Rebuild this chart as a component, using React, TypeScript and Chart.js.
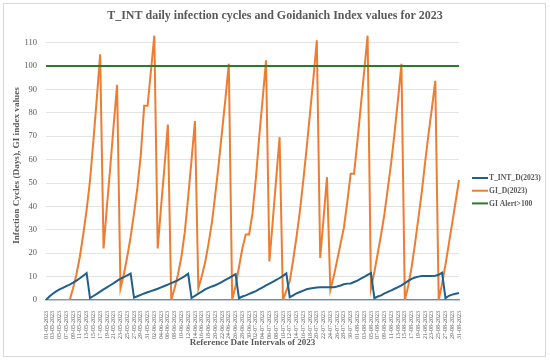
import React, { useEffect, useRef } from "react";
import { Chart, registerables } from "chart.js";

Chart.register(...registerables);

// Categories: daily dates 01-05-2023 .. 31-08-2023
const MONTHS = [
  { m: "05", days: 31 },
  { m: "06", days: 30 },
  { m: "07", days: 31 },
  { m: "08", days: 31 },
];
const dateLabels: string[] = [];
MONTHS.forEach(({ m, days }) => {
  for (let d = 1; d <= days; d++) {
    dateLabels.push(`${String(d).padStart(2, "0")}-${m}-2023`);
  }
});

const tIntValues = [
  0, 1.5, 2.7, 3.7, 4.5, 5.2, 5.9, 6.6, 7.4, 8.3, 9.3, 10.4, 11.5,
  0.8, 1.7, 2.6, 3.6, 4.5, 5.4, 6.3, 7.2, 8.2, 9.1, 9.8, 10.5, 11.3,
  1, 1.6, 2.2, 2.8, 3.3, 3.8, 4.3, 4.8, 5.4, 6, 6.6, 7.2, 7.8, 8.5, 9.3, 10.2, 11.2,
  0.8, 1.8, 2.7, 3.6, 4.5, 5.2, 5.8, 6.3, 7, 7.8, 8.6, 9.4, 10.2, 11.1,
  0.8, 1.5, 2, 2.6, 3.2, 3.8, 4.6, 5.4, 6.2, 7, 7.8, 8.6, 9.4, 10.3, 11.4,
  1.2, 2, 2.8, 3.4, 4, 4.6, 4.9, 5.1, 5.3, 5.4, 5.5, 5.5, 5.5, 5.5,
  5.8, 6.2, 6.7, 7, 7.1, 7.7, 8.3, 9.1, 9.9, 10.7, 11.5,
  0.8, 1.5, 2, 2.8, 3.5, 4.1, 4.8, 5.5, 6.3, 7.2, 8.2, 9, 9.6, 10, 10.3, 10.3, 10.3, 10.3, 10.4, 10.8, 11.7,
  0.8, 1.8, 2.3, 2.7, 3,
];

const giValues = [
  0, 0, 0, 0, 0, 0, 0, 0,
  5, 11, 18.5, 28, 38.5, 51, 68, 86, 105,
  22, 40, 57, 75, 92,
  5, 11, 18.5, 27, 37, 48, 62, 83, 83, 98, 113,
  22, 40, 57, 75,
  0, 5, 11, 18.5, 29, 44, 60, 76.5,
  5, 10, 16, 24, 33, 45, 58, 72, 86, 101,
  0, 6, 14, 22, 28, 28, 37, 52, 70, 86, 102.5,
  16.5, 34, 52, 69.6,
  0, 4, 8, 17, 27, 38, 51, 65, 80, 95, 111,
  18, 35, 52.5,
  4.3, 10, 17, 24, 31, 42, 54, 54, 68, 83, 98, 113,
  5, 12, 20, 28, 37, 48, 59, 72, 86, 101,
  0, 6, 14, 24, 35, 46, 59, 71, 82, 93.7,
  0, 7, 15, 24, 33, 42, 51.3,
];

const GI_ALERT_LEVEL = 100;
const alertValues = dateLabels.map(() => GI_ALERT_LEVEL);

const CHART_TITLE = "T_INT daily infection cycles and Goidanich Index values for 2023";
const SERIES_NAMES = ["T_INT_D(2023)", "GI_D(2023)", "GI Alert>100"];
const SERIES_COLORS = ["#1f5f8b", "#ed7d31", "#2b7b2b"];

const SERIF = "'Liberation Serif', 'Times New Roman', serif";
const GREY = "#595959";

const frameTitleLegend = {
  id: "frameTitleLegend",
  afterDraw(chart: any) {
    const ctx = chart.ctx;
    ctx.save();
    ctx.strokeStyle = "#d9d9d9";
    ctx.lineWidth = 1;
    ctx.strokeRect(3.5, 3.5, 542, 353);

    ctx.fillStyle = GREY;
    ctx.font = `bold 12px ${SERIF}`;
    ctx.textAlign = "center";
    ctx.textBaseline = "middle";
    ctx.fillText(CHART_TITLE, 275, 16);

    const startY = 178;
    const gap = 12.7;
    ctx.font = `bold 7.6px ${SERIF}`;
    ctx.textBaseline = "middle";
    ctx.textAlign = "left";
    SERIES_NAMES.forEach((name, i) => {
      const y = startY + i * gap;
      ctx.strokeStyle = SERIES_COLORS[i];
      ctx.lineWidth = 2;
      ctx.beginPath();
      ctx.moveTo(472, y);
      ctx.lineTo(488, y);
      ctx.stroke();
      ctx.fillStyle = GREY;
      ctx.fillText(name, 489, y + 0.5);
    });
    ctx.restore();
  },
};

export default function App() {
  const canvasRef = useRef<HTMLCanvasElement | null>(null);

  useEffect(() => {
    document.body.style.margin = "0";
    const canvas = canvasRef.current;
    if (!canvas) return;
    const chart = new Chart(canvas, {
      type: "line",
      data: {
        labels: dateLabels,
        datasets: [
          {
            label: SERIES_NAMES[0],
            data: tIntValues,
            borderColor: SERIES_COLORS[0],
            backgroundColor: SERIES_COLORS[0],
            borderWidth: 2,
            pointRadius: 0,
            tension: 0,
            order: 0,
          },
          {
            label: SERIES_NAMES[1],
            data: giValues,
            borderColor: SERIES_COLORS[1],
            backgroundColor: SERIES_COLORS[1],
            borderWidth: 2,
            pointRadius: 0,
            tension: 0,
            order: 2,
          },
          {
            label: SERIES_NAMES[2],
            data: alertValues,
            borderColor: SERIES_COLORS[2],
            backgroundColor: SERIES_COLORS[2],
            borderWidth: 2,
            pointRadius: 0,
            tension: 0,
            order: 1,
          },
        ],
      },
      options: {
        responsive: false,
        animation: false,
        devicePixelRatio: 1,
        layout: { padding: { left: 0, right: 91, top: 31, bottom: 0 } },
        plugins: {
          legend: { display: false },
          tooltip: { enabled: false },
          title: { display: false },
        },
        scales: {
          x: {
            type: "category",
            offset: false,
            grid: { display: false },
            border: { display: true, color: "#5b8fbf", width: 1.2 },
            ticks: {
              autoSkip: false,
              maxRotation: 90,
              minRotation: 90,
              padding: 3,
              color: GREY,
              font: { family: SERIF, size: 6 },
              callback: (_v: any, idx: number) => (idx % 2 === 0 ? dateLabels[idx] : ""),
            },
            title: {
              display: true,
              text: "Reference Date Intervals of 2023",
              color: GREY,
              font: { family: SERIF, size: 9, weight: "bold" },
              padding: { top: 0, bottom: 13 },
            },
            afterFit: (scale: any) => {
              scale.height = 61;
              scale.paddingLeft = 0;
              scale.paddingRight = 0;
            },
          },
          y: {
            min: 0,
            max: 115,
            grid: { color: "#e4e4e4", drawTicks: false },
            border: { display: false },
            ticks: {
              stepSize: 5,
              padding: 9,
              color: GREY,
              font: { family: SERIF, size: 8.5 },
              callback: (v: any) => (Number(v) % 10 === 0 ? String(v) : ""),
            },
            title: {
              display: true,
              text: "Infection Cycles (Days), GI index values",
              color: GREY,
              font: { family: SERIF, size: 9.2, weight: "bold" },
              padding: { top: 11, bottom: 0 },
            },
            afterFit: (scale: any) => {
              scale.width = 46;
              scale.paddingTop = 0;
              scale.paddingBottom = 0;
            },
          },
        },
      },
      plugins: [frameTitleLegend],
    });
    return () => chart.destroy();
  }, []);

  return (
    <div style={{ width: 550, height: 361, background: "#fff" }}>
      <canvas ref={canvasRef} width={550} height={361} />
    </div>
  );
}
